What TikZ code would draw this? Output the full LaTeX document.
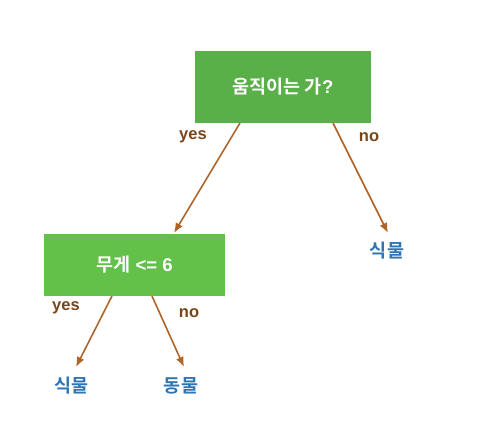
\documentclass[tikz,border=0pt]{standalone}
\usepackage{fontspec}
\setmainfont{Liberation Sans}
\newfontfamily\kr{Noto Sans CJK KR}[BoldFont={Noto Sans CJK KR Bold}]
\definecolor{boxA}{RGB}{89,176,72}
\definecolor{boxB}{RGB}{99,193,74}
\definecolor{arr}{RGB}{176,100,40}
\definecolor{lbl}{RGB}{120,70,25}
\definecolor{leafc}{RGB}{46,117,182}
\usetikzlibrary{arrows.meta}
\begin{document}
\begin{tikzpicture}[x=1pt,y=-1pt,
  decision/.style={minimum width=#1, inner sep=0pt, text=white, font=\fontsize{18.5}{18.5}\selectfont\bfseries},
  leaf/.style={inner sep=0pt, text=leafc, font=\kr\fontsize{18.5}{18.5}\selectfont\bfseries},
  edgelbl/.style={inner sep=0pt, text=lbl, font=\fontsize{16.5}{16.5}\selectfont\bfseries},
  conn/.style={draw=arr, line width=1.6pt, -{Latex[length=10pt,width=8pt]}}]
\useasboundingbox (0,0) rectangle (488,447);
\node[decision=176pt, minimum height=72pt, fill=boxA] (root) at (283,87) {\raisebox{-1pt}{{\kr 움직이는 가}?}};
\node[decision=181pt, minimum height=62pt, fill=boxB] (weight) at (134.5,265) {{\kr 무게} <= 6};
\node[leaf] (leafR) at (387,251) {식물};
\node[leaf] (leafL) at (72,386) {식물};
\node[leaf] (leafM) at (181,386) {동물};
\coordinate (rootL) at (240,123);
\coordinate (rootR) at (333,123);
\coordinate (wL) at (112,296);
\coordinate (wR) at (152,296);
\coordinate (tW) at (174,233);
\coordinate (tR) at (388,233);
\coordinate (tL) at (76,367);
\coordinate (tM) at (184,367);
\draw[conn] (rootL) -- (tW);
\draw[conn] (rootR) -- (tR);
\draw[conn] (wL) -- (tL);
\draw[conn] (wR) -- (tM);
\node[edgelbl] (y1) at (193,137) {yes};
\node[edgelbl] (n1) at (369,137) {no};
\node[edgelbl] (y2) at (66,308) {yes};
\node[edgelbl] (n2) at (189,313) {no};
\end{tikzpicture}
\end{document}
